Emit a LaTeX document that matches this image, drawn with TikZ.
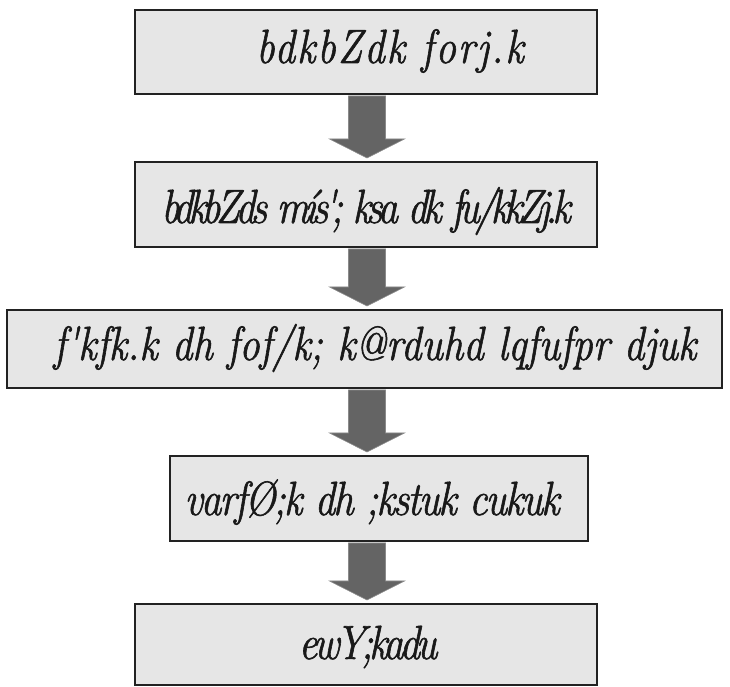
\documentclass[tikz,border=0pt]{standalone}
\usepackage{fontspec}
\newfontfamily\kfontA{Latin Modern Roman}[FakeStretch=0.85, FakeBold=1.2, LetterSpace=4.2]
\newfontfamily\kfontB{Latin Modern Roman}[FakeStretch=0.85, FakeBold=1.2, LetterSpace=-10]
\newfontfamily\kfontC{Latin Modern Roman}[FakeStretch=0.85, FakeBold=1.2]
\newfontfamily\kfontD{Latin Modern Roman}[FakeStretch=0.85, FakeBold=1.2, LetterSpace=-3.9]
\newfontfamily\kfontE{Latin Modern Roman}[FakeStretch=0.85, FakeBold=1.2, LetterSpace=-8.6]
\usetikzlibrary{calc}
\definecolor{boxfill}{HTML}{E6E6E6}
\definecolor{boxline}{HTML}{222222}
\definecolor{arrfill}{HTML}{646464}
\definecolor{arrline}{HTML}{8A8A8A}
\tikzset{
  stagebox/.style={draw=boxline, fill=boxfill, line width=2pt, rectangle, inner sep=0pt},
  stagetext/.style={anchor=base, inner sep=0pt, text=black!90, font=\kfontC\itshape\fontsize{48pt}{48pt}\selectfont},
  blockarr/.style={fill=arrfill, draw=arrline, line width=0.6pt}
}
\newcommand\flowarrow[2]{%
  \path[blockarr]
    ($(#1.south -| axis)+(-18.5pt,-1pt)$) --
    ($(#2.north -| axis)+(-18.5pt,22pt)$) --
    ($(#2.north -| axis)+(-37.5pt,22pt)$) --
    ($(#2.north -| axis)+(0pt,3pt)$) --
    ($(#2.north -| axis)+(37.5pt,22pt)$) --
    ($(#2.north -| axis)+(18.5pt,22pt)$) --
    ($(#1.south -| axis)+(18.5pt,-1pt)$) -- cycle;}
\begin{document}
\begin{tikzpicture}[x=1pt,y=1pt]
\useasboundingbox[fill=white] (0,0) rectangle (730,687);
\coordinate (axis) at (367,0);
\node[stagebox, minimum width=462pt, minimum height=84pt] (b1) at (366,{687-52}) {};
\node[stagebox, minimum width=462pt, minimum height=85pt] (b2) at (366,{687-204.5}) {};
\node[stagebox, minimum width=715pt, minimum height=78pt] (b3) at (364.5,{687-349}) {};
\node[stagebox, minimum width=418pt, minimum height=85pt] (b4) at (379,{687-498.5}) {};
\node[stagebox, minimum width=462pt, minimum height=81pt] (b5) at (366,{687-644.5}) {};
\node[stagetext, font=\kfontA\itshape\fontsize{48pt}{48pt}\selectfont] (t1) at (390,{687-63}) {bdkbZdk forj.k};
\node[stagetext, font=\kfontB\itshape\fontsize{48pt}{48pt}\selectfont] (t2) at (366,{687-223}) {bdkbZds mís'; ksa dk fu/kkZj.k};
\node[stagetext] (t3) at (375,{687-360}) {f'kfk.k dh fof/k; k@rduhd lqfufpr djuk};
\node[stagetext, font=\kfontD\itshape\fontsize{48pt}{48pt}\selectfont] (t4) at (372,{687-515}) {varfØ;k dh ;kstuk cukuk};
\node[stagetext, font=\kfontE\itshape\fontsize{48pt}{48pt}\selectfont] (t5) at (368,{687-659}) {ewY;kadu};
\flowarrow{b1}{b2}
\flowarrow{b2}{b3}
\flowarrow{b3}{b4}
\flowarrow{b4}{b5}
\end{tikzpicture}
\end{document}
